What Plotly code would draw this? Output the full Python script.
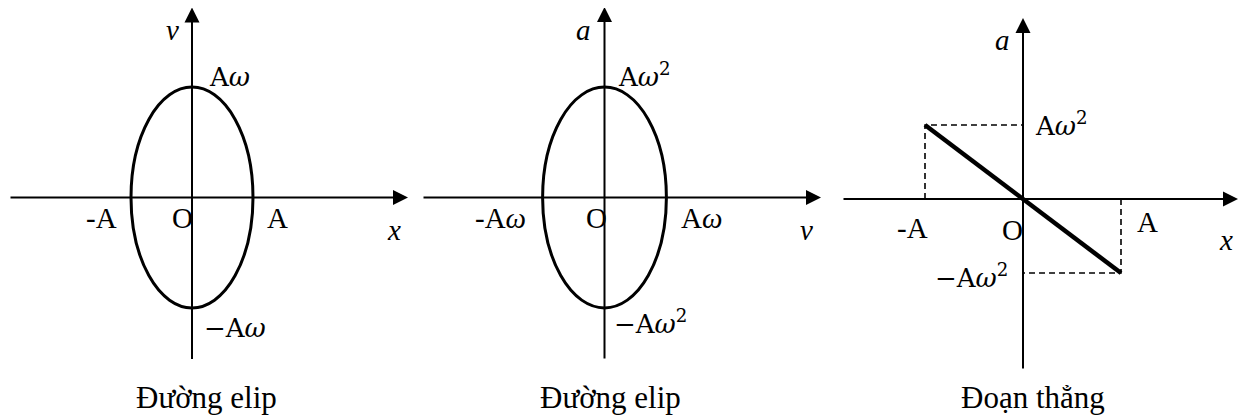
import plotly.graph_objects as go

# ---------------- data (schematic units) ----------------
A = 1.0            # amplitude
omega = 1.81       # angular frequency (schematic)
captions = ["Đường elip", "Đường elip", "Đoạn thẳng"]
h_axis_names = ["x", "v", "x"]
v_axis_names = ["v", "a", "a"]
h_tick_labels = [["-A", "A"], ["-A<i>ω</i>", "A<i>ω</i>"], ["-A", "A"]]
v_tick_labels = [["A<i>ω</i>", "−A<i>ω</i>"],
                 ["A<i>ω</i><sup>2</sup>", "−A<i>ω</i><sup>2</sup>"],
                 ["A<i>ω</i><sup>2</sup>", "−A<i>ω</i><sup>2</sup>"]]
origin_label = "O"

# ---------------- layout geometry (pixels in the 1248x419 window) ----------------
PAGE_MARGIN = 8           # default body margin of the html page
W, H = 1248 - PAGE_MARGIN, 419 - PAGE_MARGIN
panels = [
    # domain px, origin px, px-per-unit (sx, sy), axis extents (left, right, down, up) px
    dict(d=(0, 415), o=(192, 197.5), s=(61, 61), ext=(183, 216, 163, 190)),
    dict(d=(415, 830), o=(604.5, 197.5), s=(34.2, 33.7), ext=(182.5, 216.5, 162.5, 190.5)),
    dict(d=(830, 1248), o=(1023, 199), s=(98, 22.6), ext=(181, 215, 171, 181)),
]


def fx(px):
    return (px - PAGE_MARGIN) / W


def fy(py):
    return 1 - (py - PAGE_MARGIN) / H


SERIF = "Liberation Serif"
MATH = "DejaVu Serif"
fig = go.Figure()
annotations = []
shapes = []

for i, p in enumerate(panels):
    k = "" if i == 0 else str(i + 1)
    xa, ya = "x" + k, "y" + k
    (d0, d1), (ox, oy), (sx, sy) = p["d"], p["o"], p["s"]
    d0 = max(d0, PAGE_MARGIN)
    d1 = min(d1, PAGE_MARGIN + W)
    left, right, down, up = p["ext"]
    fig.update_layout({
        "xaxis" + k: dict(domain=[fx(d0), fx(d1)], range=[(d0 - ox) / sx, (d1 - ox) / sx],
                          visible=False, fixedrange=True, anchor=ya),
        "yaxis" + k: dict(domain=[0, 1],
                          range=[-(PAGE_MARGIN + H - oy) / sy, (oy - PAGE_MARGIN) / sy],
                          visible=False, fixedrange=True, anchor=xa),
    })
    # axes with arrows
    annotations.append(dict(x=right / sx, y=0, ax=-left / sx, ay=0, xref=xa, yref=ya,
                            axref=xa, ayref=ya, text="", showarrow=True, arrowhead=2,
                            arrowsize=1.5, arrowwidth=2, arrowcolor="black", standoff=0))
    annotations.append(dict(x=0, y=up / sy, ax=0, ay=-down / sy, xref=xa, yref=ya,
                            axref=xa, ayref=ya, text="", showarrow=True, arrowhead=2,
                            arrowsize=1.5, arrowwidth=2, arrowcolor="black", standoff=0))

# Panel 1: x-v ellipse
shapes.append(dict(type="circle", xref="x", yref="y", x0=-A, x1=A,
                   y0=-A * omega, y1=A * omega, line=dict(color="black", width=3)))
# Panel 2: v-a ellipse
shapes.append(dict(type="circle", xref="x2", yref="y2", x0=-A * omega, x1=A * omega,
                   y0=-A * omega ** 2, y1=A * omega ** 2, line=dict(color="black", width=3)))
# Panel 3: a = -omega^2 x segment
seg_x = [-A, A]
seg_a = [A * omega ** 2, -A * omega ** 2]
for xs, ys in [([seg_x[0], seg_x[0], 0], [0, seg_a[0], seg_a[0]]),
               ([seg_x[1], seg_x[1], 0], [0, seg_a[1], seg_a[1]])]:
    fig.add_trace(go.Scatter(x=xs, y=ys, xaxis="x3", yaxis="y3", mode="lines",
                             line=dict(color="black", width=1.6, dash="6px,4px"),
                             showlegend=False, hoverinfo="skip"))
fig.add_trace(go.Scatter(x=seg_x, y=seg_a, xaxis="x3", yaxis="y3", mode="lines",
                         line=dict(color="black", width=4.5), showlegend=False, hoverinfo="skip"))

# ---------------- text labels (pixel positions in window) ----------------
label_pos = [
    dict(v=(172, 30), h=(394, 230), ht=[(101, 218), (277, 218)], vt=[(229, 77), (235, 328)],
         o=(182, 218), cap=(206, 397)),
    dict(v=(583, 30), h=(806, 230), ht=[(500, 218), (701, 218)], vt=[(644, 75), (650, 322)],
         o=(596, 218), cap=(610, 397)),
    dict(v=(1003, 40), h=(1226, 240), ht=[(912, 228), (1147, 222)], vt=[(1061, 124), (971, 276)],
         o=(1013, 230), cap=(1033, 397)),
]


def txt(s, pos, size, family=SERIF, italic=False):
    if italic:
        s = "<i>" + s + "</i>"
    annotations.append(dict(x=fx(pos[0]), y=fy(pos[1]), xref="paper", yref="paper",
                            text=s, showarrow=False, xanchor="center", yanchor="middle",
                            font=dict(family=family, size=size, color="black")))


for i, lp in enumerate(label_pos):
    txt(v_axis_names[i], lp["v"], 29, italic=True)
    txt(h_axis_names[i], lp["h"], 29, italic=True)
    for s, pos in zip(h_tick_labels[i], lp["ht"]):
        txt(s, pos, 29)
    for s, pos in zip(v_tick_labels[i], lp["vt"]):
        txt(s, pos, 26, family=MATH)
    txt(origin_label, lp["o"], 29)
    txt(captions[i], lp["cap"], 31)

fig.update_layout(width=W, height=H, margin=dict(l=0, r=0, t=0, b=0),
                  paper_bgcolor="white", plot_bgcolor="white",
                  annotations=annotations, shapes=shapes, showlegend=False)
fig.write_html("out.html")
